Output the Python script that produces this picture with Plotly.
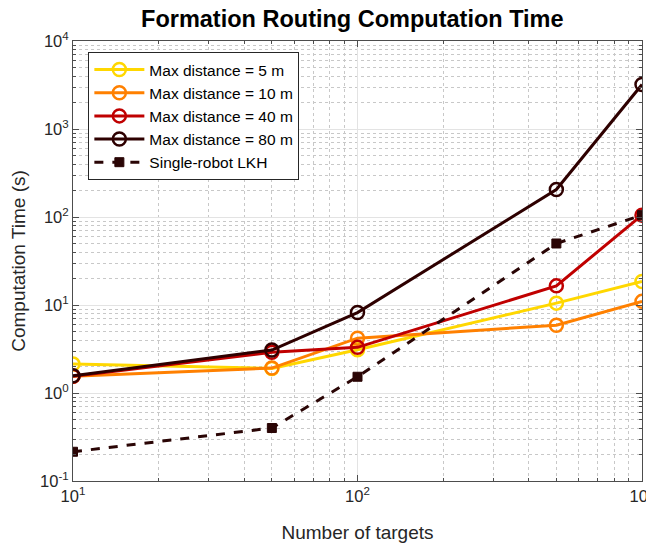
import plotly.graph_objects as go

targets = [10, 50, 100, 500, 1000]
series_names = ["Max distance = 5 m", "Max distance = 10 m", "Max distance = 40 m", "Max distance = 80 m"]
t_5m = [2.13, 1.9, 3.1, 10.5, 18.5]
t_10m = [1.55, 1.92, 4.2, 5.9, 11.0]
t_40m = [1.55, 2.9, 3.3, 16.5, 105]
t_80m = [1.57, 3.08, 8.2, 205, 3200]
t_lkh = [0.215, 0.40, 1.53, 50, 105]
lkh_name = "Single-robot LKH"
colors = ["#FFD700", "#FF8000", "#C00000", "#2E0000"]
lkh_color = "#2A0505"

ytick_vals = [0.1, 1, 10, 100, 1000, 10000]
ytick_text = ["10<sup>-1</sup>", "10<sup>0</sup>", "10<sup>1</sup>", "10<sup>2</sup>", "10<sup>3</sup>", "10<sup>4</sup>"]
xtick_vals = [10, 100, 1000]
xtick_text = ["10<sup>1</sup>", "10<sup>2</sup>", "10<sup>3</sup>"]
y_minor = [m * d for d in [0.1, 1, 10, 100, 1000] for m in range(2, 10)]
x_minor = [m * d for d in [10, 100] for m in range(2, 10)]

fig = go.Figure()
for name, ys, c in zip(series_names, [t_5m, t_10m, t_40m, t_80m], colors):
    fig.add_trace(go.Scatter(
        x=targets, y=ys, name=name, mode="lines+markers",
        line=dict(color=c, width=3),
        marker=dict(symbol="circle-open", size=13, color=c, line=dict(width=2.5, color=c)),
    ))
fig.add_trace(go.Scatter(
    x=targets, y=t_lkh, name=lkh_name, mode="lines+markers",
    line=dict(color=lkh_color, width=3, dash="dash"),
    marker=dict(symbol="square", size=9, color=lkh_color, line=dict(width=1, color=lkh_color)),
))

font = "Liberation Sans, Arial, sans-serif"
axis_common = dict(
    type="log", showline=True, linecolor="#4d4d4d", linewidth=1, mirror="ticks",
    ticks="inside", ticklen=6, tickcolor="#4d4d4d",
    showgrid=True, gridcolor="#e3e3e3", gridwidth=1,
    zeroline=False, automargin=False, ticklabeloverflow="allow",
    tickfont=dict(family=font, size=16.5, color="#262626"),
)
fig.update_xaxes(**axis_common, range=[1, 3], tickvals=xtick_vals, ticktext=xtick_text,
                 minor=dict(tickvals=x_minor, ticks="inside", ticklen=3, tickcolor="#4d4d4d", showgrid=True,
                            gridcolor="#c8c8c8", griddash="dot", gridwidth=1),
                 title=dict(text="Number of targets", font=dict(family=font, size=19, color="#262626"), standoff=21))
fig.update_yaxes(**axis_common, range=[-1, 4], tickvals=ytick_vals, ticktext=ytick_text,
                 minor=dict(tickvals=y_minor, ticks="inside", ticklen=3, tickcolor="#4d4d4d", showgrid=True,
                            gridcolor="#c8c8c8", griddash="dot", gridwidth=1),
                 title=dict(text="Computation Time (s)", font=dict(family=font, size=19, color="#262626"), standoff=10))

fig.update_layout(
    width=646, height=537,
    margin=dict(l=65, r=12, t=33, b=64),
    paper_bgcolor="white", plot_bgcolor="white",
    title=dict(text="<b>Formation Routing Computation Time</b>", x=0.533, xref="container", xanchor="center",
               y=1.0, yref="container", yanchor="top", pad=dict(t=3),
               font=dict(family=font, size=23.5, color="black")),
    legend=dict(x=0.027, y=0.975, xanchor="left", yanchor="top",
                bgcolor="white", bordercolor="#262626", borderwidth=1,
                font=dict(family=font, size=15.5, color="black"),
                tracegroupgap=0, itemwidth=50),
    showlegend=True,
)
fig.write_html("out.html")
